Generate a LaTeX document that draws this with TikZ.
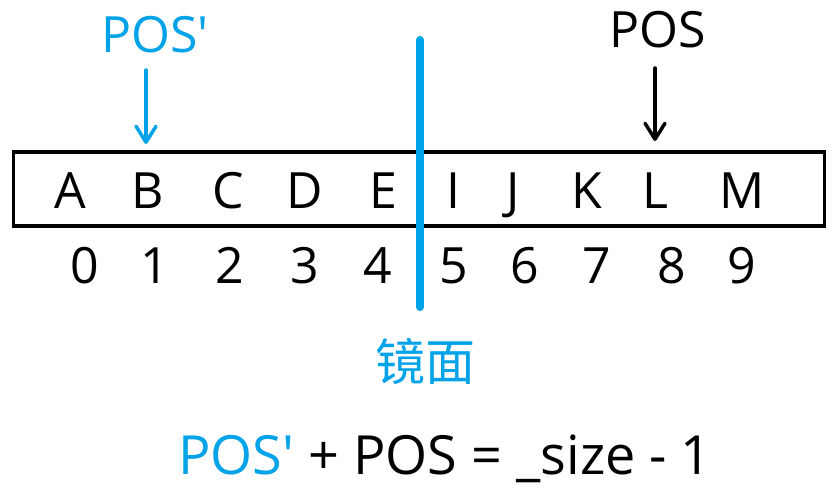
\documentclass[tikz,border=0pt]{standalone}
\usepackage{fontspec}
\setmainfont{Open Sans}
\newfontfamily\cjk{Noto Sans CJK SC}
\usetikzlibrary{arrows.meta}
\definecolor{mblue}{RGB}{0,162,232}
\begin{document}
\begin{tikzpicture}[x=1pt,y=-1pt,
  lbl/.style={inner sep=0pt,anchor=base,font=\fontsize{50}{60}\selectfont},
  ptr/.style={line width=3.5pt,line cap=round,-{Straight Barb[length=16pt,width=20pt,line width=3.5pt,round]}}]
\useasboundingbox (0,0) rectangle (837,492);
\node[draw,line width=3.5pt,minimum width=811pt,minimum height=74pt,inner sep=0pt] (box) at (419,189) {};
\foreach \t/\x [count=\i] in {A/70,B/148,C/228,D/305,E/383,I/453,J/513,K/587,L/655,M/742}{
  \node[lbl] (c\i) at (\x,208) {\t};
}
\foreach \t/\x [count=\i] in {0/85,1/155,2/230,3/305,4/378,5/454,6/525,7/597,8/672,9/742}{
  \node[lbl] (n\i) at (\x,283) {\t};
}
\coordinate (mtop) at (420,40);
\coordinate (mbot) at (420,307);
\draw[mblue,line width=8pt,line cap=round] (mtop) -- (mbot);
\node[inner sep=0pt,text=mblue,font=\cjk\fontsize{50}{55}\selectfont] (mir) at (425,361) {镜面};
\node[lbl,text=mblue] (posp) at (155,53) {POS\textquotesingle};
\node[lbl] (pos) at (658,48) {POS};
\coordinate (pa) at (146,70);
\coordinate (pb) at (655,68);
\coordinate (pae) at (146,144);
\coordinate (pbe) at (655,141);
\draw[ptr,mblue] (pa) -- (pae);
\draw[ptr] (pb) -- (pbe);
\node[lbl,font=\fontsize{54}{62}\selectfont] (eq) at (445,474) {\textcolor{mblue}{POS\textquotesingle} + POS = \_size - 1};
\end{tikzpicture}
\end{document}
